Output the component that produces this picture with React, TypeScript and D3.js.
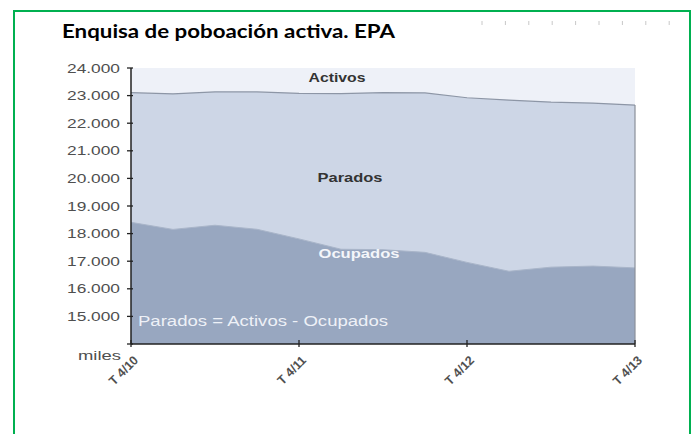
import React from "react";
import * as d3 from "d3";

const quarters = ["T 4/10","T 1/11","T 2/11","T 3/11","T 4/11","T 1/12","T 2/12","T 3/12","T 4/12","T 1/13","T 2/13","T 3/13","T 4/13"];
const activos = [23105, 23063, 23137, 23134, 23081, 23073, 23110, 23098, 22922, 22837, 22761, 22728, 22655];
const ocupados = [18408, 18152, 18303, 18156, 17808, 17433, 17417, 17320, 16957, 16635, 16784, 16823, 16758];
const yTicks = [15000, 16000, 17000, 18000, 19000, 20000, 21000, 22000, 23000, 24000];
const labeledQuarters = ["T 4/10", "T 4/11", "T 4/12", "T 4/13"];

const fmt = (v: number) => d3.format(",")(v).replace(/,/g, ".");

export default function App() {
  const x = d3.scaleLinear().domain([0, quarters.length - 1]).range([131, 635]);
  const y = d3.scaleLinear().domain([14000, 24000]).range([344, 68]);
  const idx = quarters.map((_, i) => i);

  const areaAct = d3.area<number>().x((i) => x(i)).y0(y(14000)).y1((i) => y(activos[i]));
  const areaOcu = d3.area<number>().x((i) => x(i)).y0(y(14000)).y1((i) => y(ocupados[i]));
  const lineAct = d3.line<number>().x((i) => x(i)).y((i) => y(activos[i]));
  const lineOcu = d3.line<number>().x((i) => x(i)).y((i) => y(ocupados[i]));

  const dashXs = d3.range(9).map((k) => 482 + k * 23.4);
  const font = "'Liberation Sans', Arial, sans-serif";

  return (
    <svg width={696} height={434} style={{ position: "absolute", left: 0, top: 0, background: "#fff" }}>
      {/* green frame */}
      <path d="M14,440 L14,11 L690,11 L690,440" fill="none" stroke="#00b050" strokeWidth={2} />
      <text x={62} y={37.5} fontFamily="Lato, 'Open Sans', sans-serif" fontWeight={700} fontSize={19.5} fill="#000" textLength={333} lengthAdjust="spacingAndGlyphs">
        Enquisa de poboación activa. EPA
      </text>
      {dashXs.map((dx, k) => (
        <line key={k} x1={dx} x2={dx} y1={21} y2={25} stroke="#c8c8c8" strokeWidth={1} />
      ))}

      {/* plot background */}
      <rect x={x(0)} y={y(24000)} width={x(12) - x(0)} height={y(14000) - y(24000)} fill="#eef1f8" />
      <path d={areaAct(idx) || ""} fill="#cdd6e6" />
      <path d={areaOcu(idx) || ""} fill="#98a7c0" />
      <path d={lineOcu(idx) || ""} fill="none" stroke="#a9b5c9" strokeWidth={1} />
      <path d={lineAct(idx) || ""} fill="none" stroke="#8d96a6" strokeWidth={1.2} />
      <line x1={x(12)} x2={x(12)} y1={y(activos[12])} y2={y(14000)} stroke="#8a8f99" strokeWidth={1.2} />

      {/* labels inside */}
      <text x={337} y={82} textAnchor="middle" fontFamily={font} fontWeight={700} fontSize={13} fill="#333" textLength={57} lengthAdjust="spacingAndGlyphs">Activos</text>
      <text x={350} y={182} textAnchor="middle" fontFamily={font} fontWeight={700} fontSize={13} fill="#333" textLength={65} lengthAdjust="spacingAndGlyphs">Parados</text>
      <text x={359} y={258} textAnchor="middle" fontFamily={font} fontWeight={700} fontSize={13} fill="#f4f6fa" textLength={81} lengthAdjust="spacingAndGlyphs">Ocupados</text>
      <text x={138} y={326} fontFamily={font} fontSize={14} fill="#eef1f7" textLength={250} lengthAdjust="spacingAndGlyphs">Parados = Activos - Ocupados</text>

      {/* y axis */}
      <line x1={131} x2={131} y1={y(24000)} y2={y(14000)} stroke="#222" strokeWidth={1.5} />
      {[14000, ...yTicks].map((t) => (
        <line key={t} x1={127} x2={133} y1={y(t)} y2={y(t)} stroke="#222" strokeWidth={1.3} />
      ))}
      {yTicks.map((t) => (
        <text key={t} x={120} y={y(t) + 4.5} textAnchor="end" fontFamily={font} fontSize={12.5} fill="#4f4f4f" textLength={53} lengthAdjust="spacingAndGlyphs">
          {fmt(t)}
        </text>
      ))}
      <text x={121} y={360} textAnchor="end" fontFamily={font} fontSize={12.5} fill="#4f4f4f" textLength={43} lengthAdjust="spacingAndGlyphs">miles</text>

      {/* x axis */}
      <line x1={131} x2={635} y1={344} y2={344} stroke="#222" strokeWidth={1.5} />
      {quarters.map((q, i) =>
        labeledQuarters.includes(q) ? (
          <g key={q}>
            <line x1={x(i)} x2={x(i)} y1={340} y2={347} stroke="#222" strokeWidth={1.3} />
            <g transform={`translate(${x(i) + 8},${361}) rotate(-45)`}>
              <text textAnchor="end" fontFamily={font} fontWeight={700} fontSize={12.5} fill="#505050">{q}</text>
            </g>
          </g>
        ) : null
      )}
    </svg>
  );
}
